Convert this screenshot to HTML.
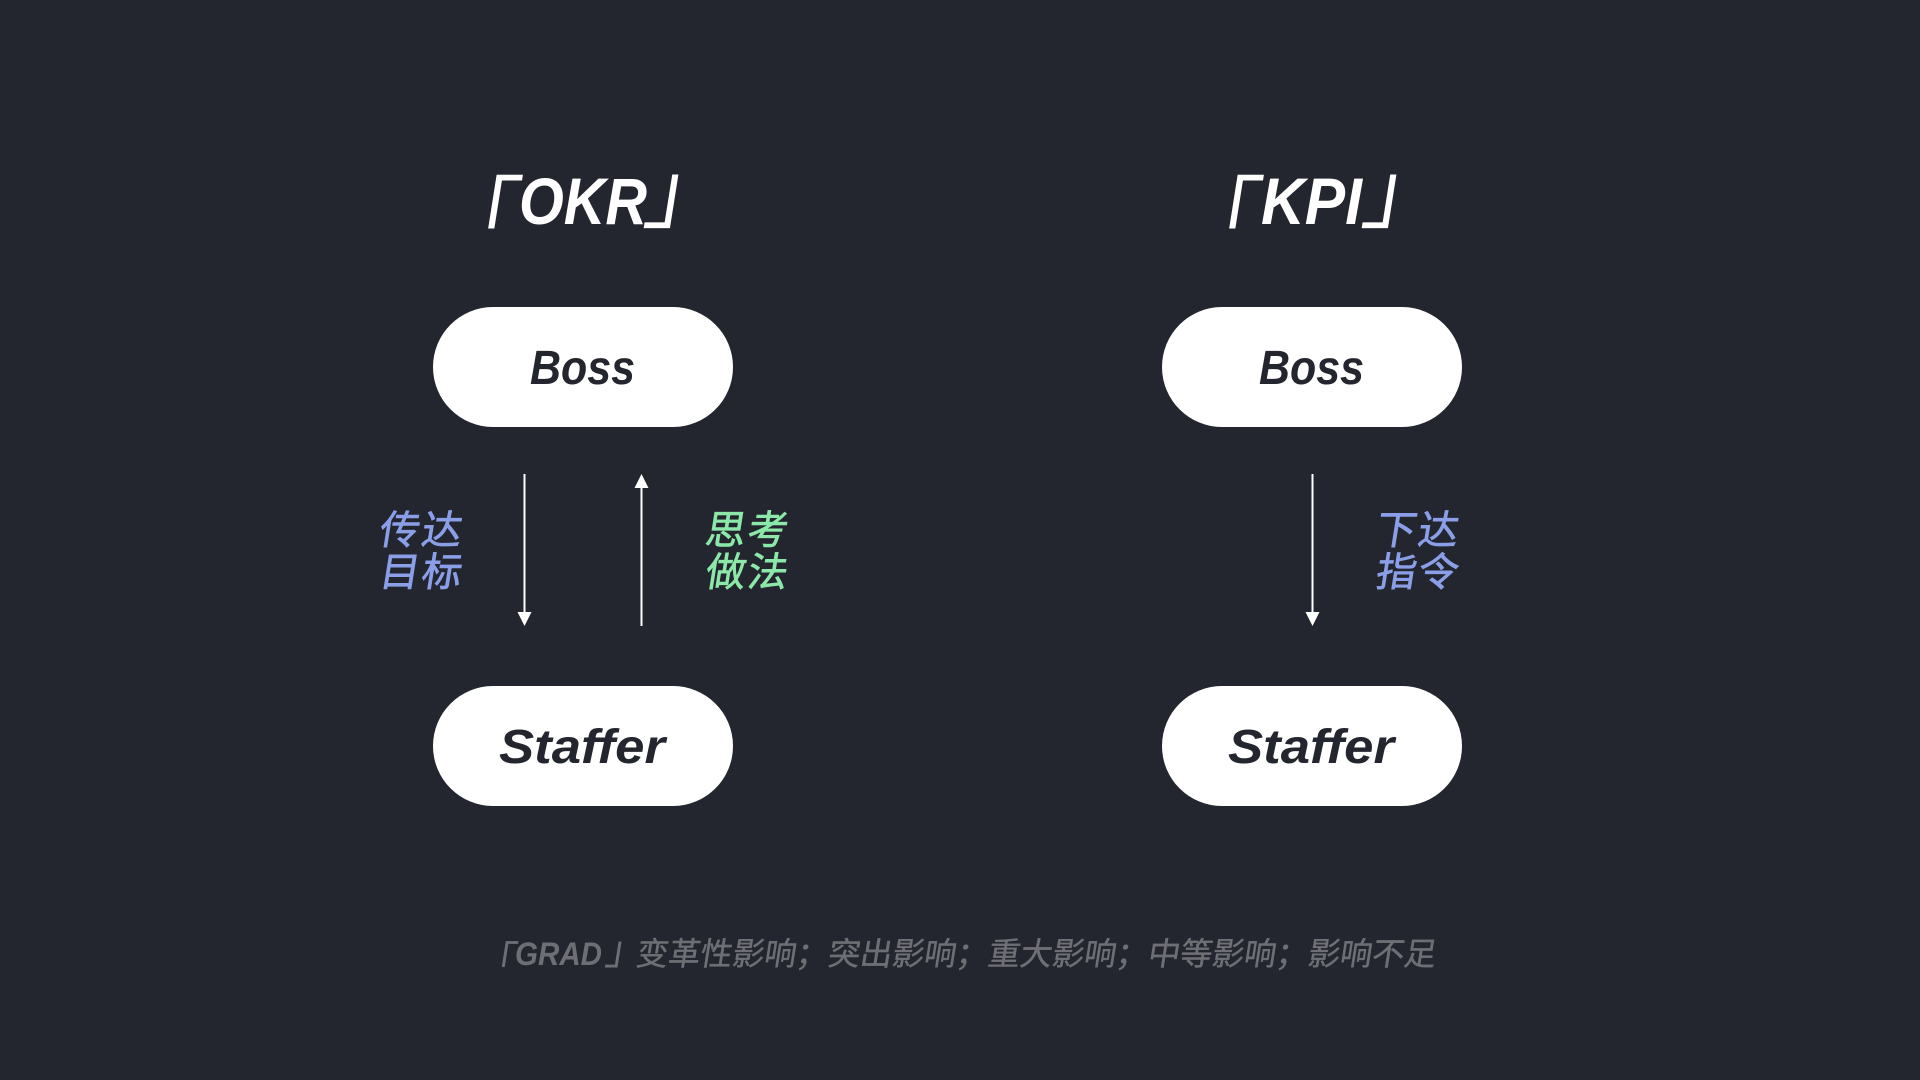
<!DOCTYPE html>
<html lang="zh"><head><meta charset="utf-8"><title>OKR KPI</title>
<style>
html,body{margin:0;padding:0;background:#23262e;width:1920px;height:1080px;overflow:hidden}
svg{display:block}
text{font-family:"Liberation Sans","Noto Sans CJK SC",sans-serif}
.t{font-size:66px;font-weight:700;fill:#fff;font-style:italic}
.b{font-size:83px;fill:#fff;font-family:"Noto Sans CJK SC",sans-serif}
.p{font-size:48px;font-weight:700;fill:#23262e;font-style:italic}
.c{font-size:40px;font-family:"Noto Sans CJK SC",sans-serif;stroke-width:.7px}
.bl{fill:#8a9fe8;stroke:#8a9fe8}.gr{fill:#8ce8a8;stroke:#8ce8a8}
.f{font-size:32px;fill:#6d6f74;stroke:#6d6f74;stroke-width:.4px;font-family:"Noto Sans CJK SC",sans-serif}
.fb{font-size:40px;fill:#6d6f74;font-family:"Noto Sans CJK SC",sans-serif}
.fl{font-size:32px;fill:#6d6f74;font-weight:700;font-style:italic}
</style></head><body>
<svg width="1920" height="1080" viewBox="0 0 1920 1080" xmlns="http://www.w3.org/2000/svg">
<rect width="1920" height="1080" fill="#23262e"/>
<rect x="433" y="307" width="300" height="120" rx="60" fill="#fff"/>
<rect x="433" y="686" width="300" height="120" rx="60" fill="#fff"/>
<rect x="1162" y="307" width="300" height="120" rx="60" fill="#fff"/>
<rect x="1162" y="686" width="300" height="120" rx="60" fill="#fff"/>

<text class="b" transform="translate(431.6,245) skewX(-9)">「</text><text class="t" x="519" y="224" textLength="128" lengthAdjust="spacingAndGlyphs">OKR</text><text class="b" transform="translate(642,221) skewX(-9)">」</text>
<text class="b" transform="translate(1172.6,245) skewX(-9)">「</text><text class="t" x="1261" y="224" textLength="101" lengthAdjust="spacingAndGlyphs">KPI</text><text class="b" transform="translate(1360,221) skewX(-9)">」</text>

<text class="p" x="530" y="384" textLength="105" lengthAdjust="spacingAndGlyphs">Boss</text>
<text class="p" x="1259" y="384" textLength="105" lengthAdjust="spacingAndGlyphs">Boss</text>
<text class="p" x="499" y="763" textLength="166" lengthAdjust="spacingAndGlyphs">Staffer</text>
<text class="p" x="1228" y="763" textLength="166" lengthAdjust="spacingAndGlyphs">Staffer</text>

<g fill="#fff">
<rect x="523.5" y="474" width="2" height="140"/><polygon points="517.5,612 531.5,612 524.5,626"/>
<rect x="640.5" y="488" width="2" height="138"/><polygon points="634.5,488 648.5,488 641.5,474"/>
<rect x="1311.5" y="474" width="2" height="140"/><polygon points="1305.5,612 1319.5,612 1312.5,626"/>
</g>

<text class="c bl" transform="translate(378,544) skewX(-9)" x="0 42">传达</text>
<text class="c bl" transform="translate(378,586) skewX(-9)" x="0 42">目标</text>
<text class="c gr" transform="translate(704,544) skewX(-9)" x="0 42">思考</text>
<text class="c gr" transform="translate(704,586) skewX(-9)" x="0 42">做法</text>
<text class="c bl" transform="translate(1374.5,544) skewX(-9)" x="0 42">下达</text>
<text class="c bl" transform="translate(1374.5,586) skewX(-9)" x="0 42">指令</text>

<text class="fb" transform="translate(474.5,975) skewX(-9)">「</text><text class="fl" x="515" y="965" textLength="87" lengthAdjust="spacingAndGlyphs">GRAD</text><text class="fb" transform="translate(604,964) skewX(-9)">」</text>
<text class="f" transform="translate(635,965) skewX(-9)">变革性影响；突出影响；重大影响；中等影响；影响不足</text>
</svg>
</body></html>
